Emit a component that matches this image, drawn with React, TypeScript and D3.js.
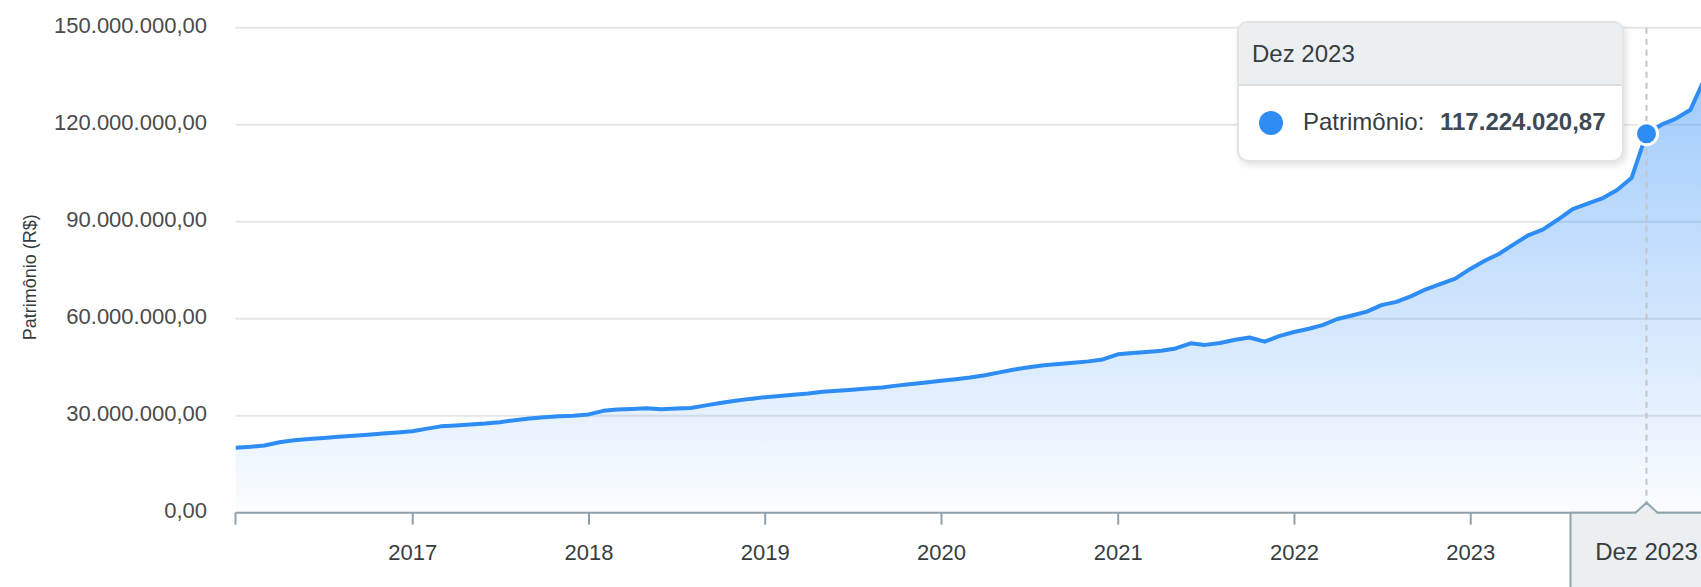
import { useEffect } from 'react';
import * as d3 from 'd3';

// Patrimônio (R$ milhões), fechamento de cada mês
const dez2015 = [20.1];
const patrimonio2016 = [20.4, 20.8, 21.8, 22.4, 22.8, 23.1, 23.5, 23.8, 24.1, 24.5, 24.8, 25.2];
const patrimonio2017 = [26.0, 26.7, 27.0, 27.3, 27.6, 28.0, 28.6, 29.1, 29.5, 29.8, 30.0, 30.4];
const patrimonio2018 = [31.5, 31.9, 32.1, 32.3, 32.0, 32.2, 32.4, 33.2, 33.9, 34.6, 35.2, 35.7];
const patrimonio2019 = [36.1, 36.5, 36.9, 37.4, 37.7, 38.0, 38.4, 38.7, 39.3, 39.8, 40.3, 40.8];
const patrimonio2020 = [41.3, 41.8, 42.5, 43.4, 44.3, 45.0, 45.6, 46.0, 46.4, 46.8, 47.4, 49.0];
const patrimonio2021 = [49.4, 49.7, 50.1, 50.8, 52.4, 51.9, 52.5, 53.5, 54.2, 52.9, 54.6, 55.9];
const patrimonio2022 = [56.9, 58.0, 59.9, 61.0, 62.2, 64.2, 65.2, 67.0, 69.1, 70.8, 72.4, 75.4];
const patrimonio2023 = [78.0, 80.0, 83.0, 85.8, 87.6, 90.6, 93.9, 95.6, 97.2, 99.8, 103.5, 117.22402087];
const patrimonio2024 = [120.0, 121.8, 124.6, 134.5];

const yTicks = [0, 30, 60, 90, 120, 150];
const xTickYears = [2017, 2018, 2019, 2020, 2021, 2022, 2023];

const seriesName = 'Patrimônio';
const yTitle = 'Patrimônio (R$)';
const tooltipLabel = 'Dez 2023';
const tooltipValue = 117224020.87;
const tooltipIndex = 96; // Dez 2023

const W = 1701;
const H = 587;
const plotLeft = 235.5;
const plotTop = 27.7;
const plotBottom = 512.7;
const FONT = "Arial, 'Liberation Sans', Helvetica, sans-serif";
const TEXT = '#373d3f';
const BLUE = '#2e8cf5';

const ptBR = d3.formatLocale({
  decimal: ',',
  thousands: '.',
  grouping: [3],
  currency: ['R$', ''],
});
const fmt = ptBR.format(',.2f');

export default function App() {
  useEffect(() => {
    document.body.style.margin = '0';
  }, []);

  const values = [
    ...dez2015,
    ...patrimonio2016,
    ...patrimonio2017,
    ...patrimonio2018,
    ...patrimonio2019,
    ...patrimonio2020,
    ...patrimonio2021,
    ...patrimonio2022,
    ...patrimonio2023,
    ...patrimonio2024,
  ];
  // último dia de cada mês, a partir de dez/2015
  const data = values.map((v, i) => ({ date: new Date(2016, i, 0), value: v }));

  const x = d3
    .scaleTime()
    .domain([new Date(2015, 11, 31), new Date(2023, 11, 31)])
    .range([plotLeft, 1646.5]);
  const y = d3.scaleLinear().domain([0, 150]).range([plotBottom, plotTop]);

  const line = d3
    .line<{ date: Date; value: number }>()
    .x(d => x(d.date))
    .y(d => y(d.value));
  const area = d3
    .area<{ date: Date; value: number }>()
    .x(d => x(d.date))
    .y0(plotBottom)
    .y1(d => y(d.value));

  const yearTicks = xTickYears.map(yr => new Date(yr, 0, 1));
  const tip = data[tooltipIndex];
  const tipX = x(tip.date);
  const tipY = y(tip.value);

  // tooltip box
  const bx = 1238;
  const by = 22;
  const bw = 385;
  const bh = 139;
  const headerH = 63;

  return (
    <svg
      width={W}
      height={H}
      style={{ position: 'absolute', left: 0, top: 0, display: 'block' }}
      fontFamily={FONT}
    >
      <defs>
        <linearGradient id="areaFill" gradientUnits="userSpaceOnUse" x1="0" y1={y(142)} x2="0" y2={plotBottom}>
          <stop offset="0" stopColor={BLUE} stopOpacity={0.48} />
          <stop offset="1" stopColor={BLUE} stopOpacity={0.02} />
        </linearGradient>
        <filter id="tipShadow" x="-10%" y="-10%" width="120%" height="130%">
          <feDropShadow dx="2" dy="3" stdDeviation="3" floodColor="#000" floodOpacity="0.12" />
        </filter>
        <clipPath id="plotClip">
          <rect x={plotLeft} y={0} width={W - plotLeft} height={plotBottom} />
        </clipPath>
      </defs>

      <rect width={W} height={H} fill="#fff" />

      {/* grid */}
      {yTicks.slice(1).map(t => (
        <line key={t} x1={plotLeft} x2={W} y1={y(t)} y2={y(t)} stroke="#e6e6e6" strokeWidth={2} />
      ))}

      {/* y labels */}
      {yTicks.map(t => (
        <text key={t} x={207} y={y(t) + 5} textAnchor="end" fontSize={22} fill="#4a4a4a">
          {fmt(t * 1e6)}
        </text>
      ))}
      <text
        transform={`translate(36, ${(plotTop + plotBottom) / 2 + 7}) rotate(-90)`}
        textAnchor="middle"
        fontSize={18}
        fill={TEXT}
      >
        {yTitle}
      </text>

      {/* series */}
      <g clipPath="url(#plotClip)">
        <path d={area(data) ?? ''} fill="url(#areaFill)" />
        <path d={line(data) ?? ''} fill="none" stroke={BLUE} strokeWidth={4} strokeLinejoin="round" />
      </g>

      {/* crosshair */}
      <line
        x1={tipX}
        x2={tipX}
        y1={plotTop}
        y2={plotBottom}
        stroke="#c4c4c4"
        strokeWidth={2}
        strokeDasharray="6 5"
      />

      {/* x axis */}
      <line x1={plotLeft} x2={W} y1={plotBottom} y2={plotBottom} stroke="#8fa1ac" strokeWidth={2} />
      {[x.domain()[0], ...yearTicks].map((d, i) => (
        <line key={i} x1={x(d)} x2={x(d)} y1={plotBottom} y2={plotBottom + 12} stroke="#8fa1ac" strokeWidth={2} />
      ))}
      {yearTicks.map(d => (
        <text key={d.getFullYear()} x={x(d)} y={560} textAnchor="middle" fontSize={22} fill={TEXT}>
          {d.getFullYear()}
        </text>
      ))}

      {/* x tooltip */}
      <path
        d={`M${tipX - 76},${plotBottom} L${tipX - 11},${plotBottom} L${tipX},${plotBottom - 10} L${tipX + 11},${plotBottom} L${tipX + 76},${plotBottom} L${tipX + 76},${H + 10} L${tipX - 76},${H + 10} Z`}
        fill="#eceff1"
        stroke="#90a4ae"
        strokeWidth={2}
      />
      <text x={tipX} y={560} textAnchor="middle" fontSize={24} fill={TEXT}>
        {tooltipLabel}
      </text>

      {/* marker */}
      <circle cx={tipX} cy={tipY} r={11} fill={BLUE} stroke="#fff" strokeWidth={3} />

      {/* tooltip */}
      <g filter="url(#tipShadow)">
        <rect x={bx} y={by} width={bw} height={bh} rx={10} fill="#fff" stroke="#e3e3e3" strokeWidth={2} />
      </g>
      <path
        d={`M${bx + 1},${by + headerH} L${bx + 1},${by + 10} Q${bx + 1},${by + 1} ${bx + 10},${by + 1} L${bx + bw - 10},${by + 1} Q${bx + bw - 1},${by + 1} ${bx + bw - 1},${by + 10} L${bx + bw - 1},${by + headerH} Z`}
        fill="#eceff1"
      />
      <line x1={bx + 1} x2={bx + bw - 1} y1={by + headerH} y2={by + headerH} stroke="#dddddd" strokeWidth={2} />
      <text x={bx + 14} y={by + 40} fontSize={24} fill={TEXT}>
        {tooltipLabel}
      </text>
      <circle cx={bx + 33} cy={by + 101} r={12} fill={BLUE} />
      <text x={bx + 65} y={by + 108} fontSize={24} fill={TEXT}>
        {seriesName}:
      </text>
      <text x={bx + 202} y={by + 108} fontSize={24} fontWeight="bold" fill="#3d4a55">
        {fmt(tooltipValue)}
      </text>
    </svg>
  );
}
